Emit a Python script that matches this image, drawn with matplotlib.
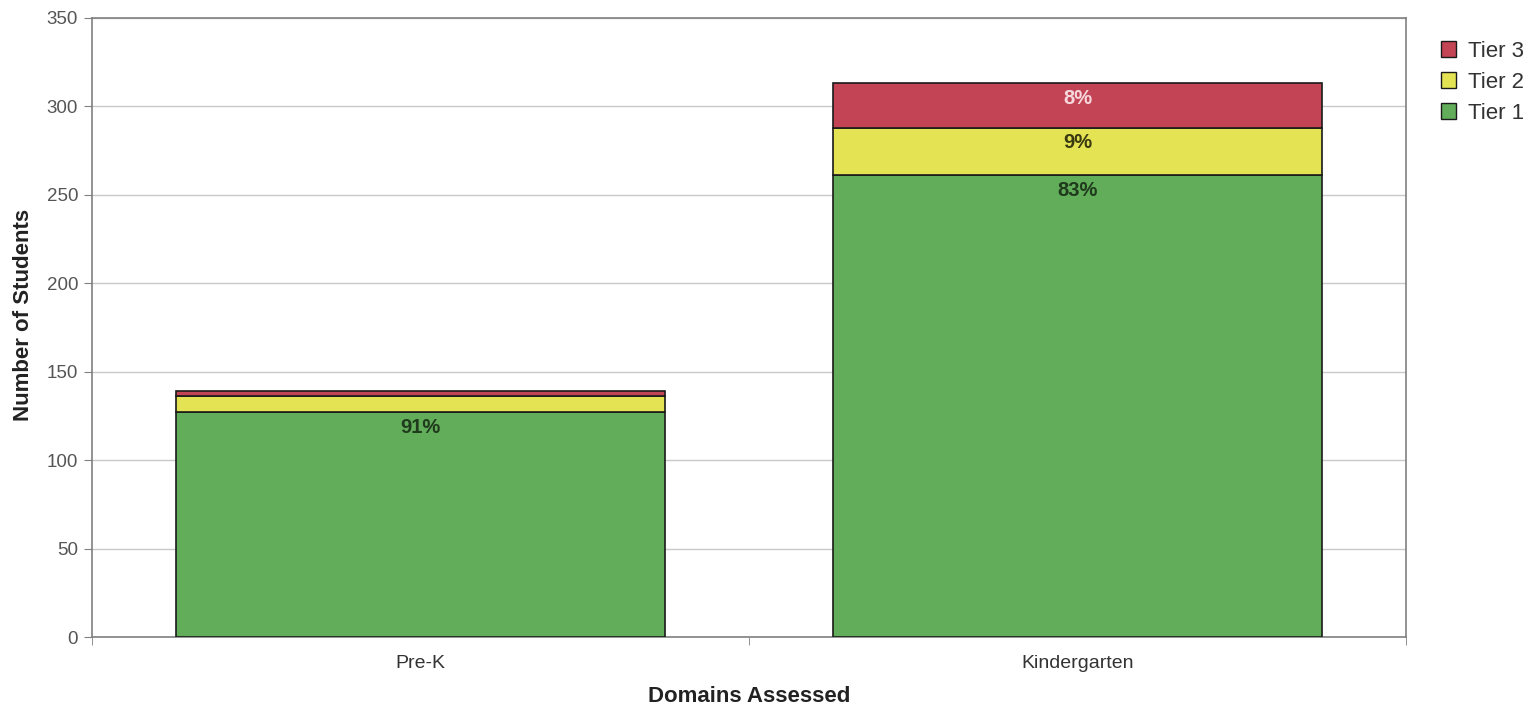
import matplotlib
matplotlib.use("Agg")
import matplotlib.pyplot as plt
from matplotlib.patches import Patch
import numpy as np

categories = ["Pre-K", "Kindergarten"]
tier1 = [127, 261]
tier2 = [9, 27]
tier3 = [3, 25]
tier1_labels = ["91%", "83%"]
tier2_labels = ["", "9%"]
tier3_labels = ["", "8%"]
yticks = [0, 50, 100, 150, 200, 250, 300, 350]

plt.rcParams['font.family'] = ['Liberation Sans', 'DejaVu Sans']

c1, c2, c3 = "#62AD5A", "#E3E354", "#C24455"

fig = plt.figure(figsize=(15.23, 7.07), dpi=100)
ax = fig.add_axes([92/1523, 1-637/707, (1406-92)/1523, (637-18)/707])

x = np.arange(len(categories))
w = 0.743
ax.bar(x, tier1, w, color=c1, edgecolor="#1a1a1a", linewidth=1.2, zorder=3)
bot2 = np.array(tier1)
ax.bar(x, tier2, w, bottom=bot2, color=c2, edgecolor="#1a1a1a", linewidth=1.2, zorder=3)
bot3 = bot2 + np.array(tier2)
ax.bar(x, tier3, w, bottom=bot3, color=c3, edgecolor="#1a1a1a", linewidth=1.2, zorder=3)

def put(labels, tops, color):
    for xi, lab, top in zip(x, labels, tops):
        if lab:
            ax.annotate(lab, (xi, top), xytext=(0, -11), textcoords="offset points",
                        ha="center", va="center", fontsize=14.5, fontweight="bold",
                        color=color, zorder=5)

put(tier1_labels, bot2, "#1F3A1C")
put(tier2_labels, bot3, "#3A3A10")
put(tier3_labels, bot3 + np.array(tier3), "#F6D8DC")

ax.set_xlim(-0.5, 1.5)
ax.set_ylim(0, 350)
ax.set_yticks(yticks)
ax.set_xticks(x)
ax.set_xticklabels(categories)
ax.set_xticks([-0.5, 0.5, 1.5], minor=True)
ax.tick_params(axis="x", which="major", length=0, pad=13, labelsize=14, labelcolor="#333333")
ax.tick_params(axis="x", which="minor", length=6, color="#808080", direction="out")
ax.tick_params(axis="y", length=6, color="#808080", direction="out", labelsize=13.5, labelcolor="#555555", pad=4)
ax.grid(axis="y", color="#c8c8c8", linewidth=1, zorder=0)
for s in ax.spines.values():
    s.set_color("#808080")
    s.set_linewidth(1.2)

ax.set_ylabel("Number of Students", fontsize=16, fontweight="bold", color="#222222")
ax.yaxis.set_label_coords(-0.0445, 0.52)
ax.set_xlabel("Domains Assessed", fontsize=16, fontweight="bold", labelpad=10, color="#222222")

handles = [Patch(facecolor=c3, edgecolor="#1a1a1a", label="Tier 3"),
           Patch(facecolor=c2, edgecolor="#1a1a1a", label="Tier 2"),
           Patch(facecolor=c1, edgecolor="#1a1a1a", label="Tier 1")]
fig.legend(handles=handles, loc="upper left", bbox_to_anchor=(1432/1523, 1-32/707),
           frameon=False, fontsize=16, handlelength=0.7, handleheight=0.7,
           handletextpad=0.5, labelspacing=0.45, borderaxespad=0, labelcolor="#333333")

fig.savefig("out.png", dpi=100)
